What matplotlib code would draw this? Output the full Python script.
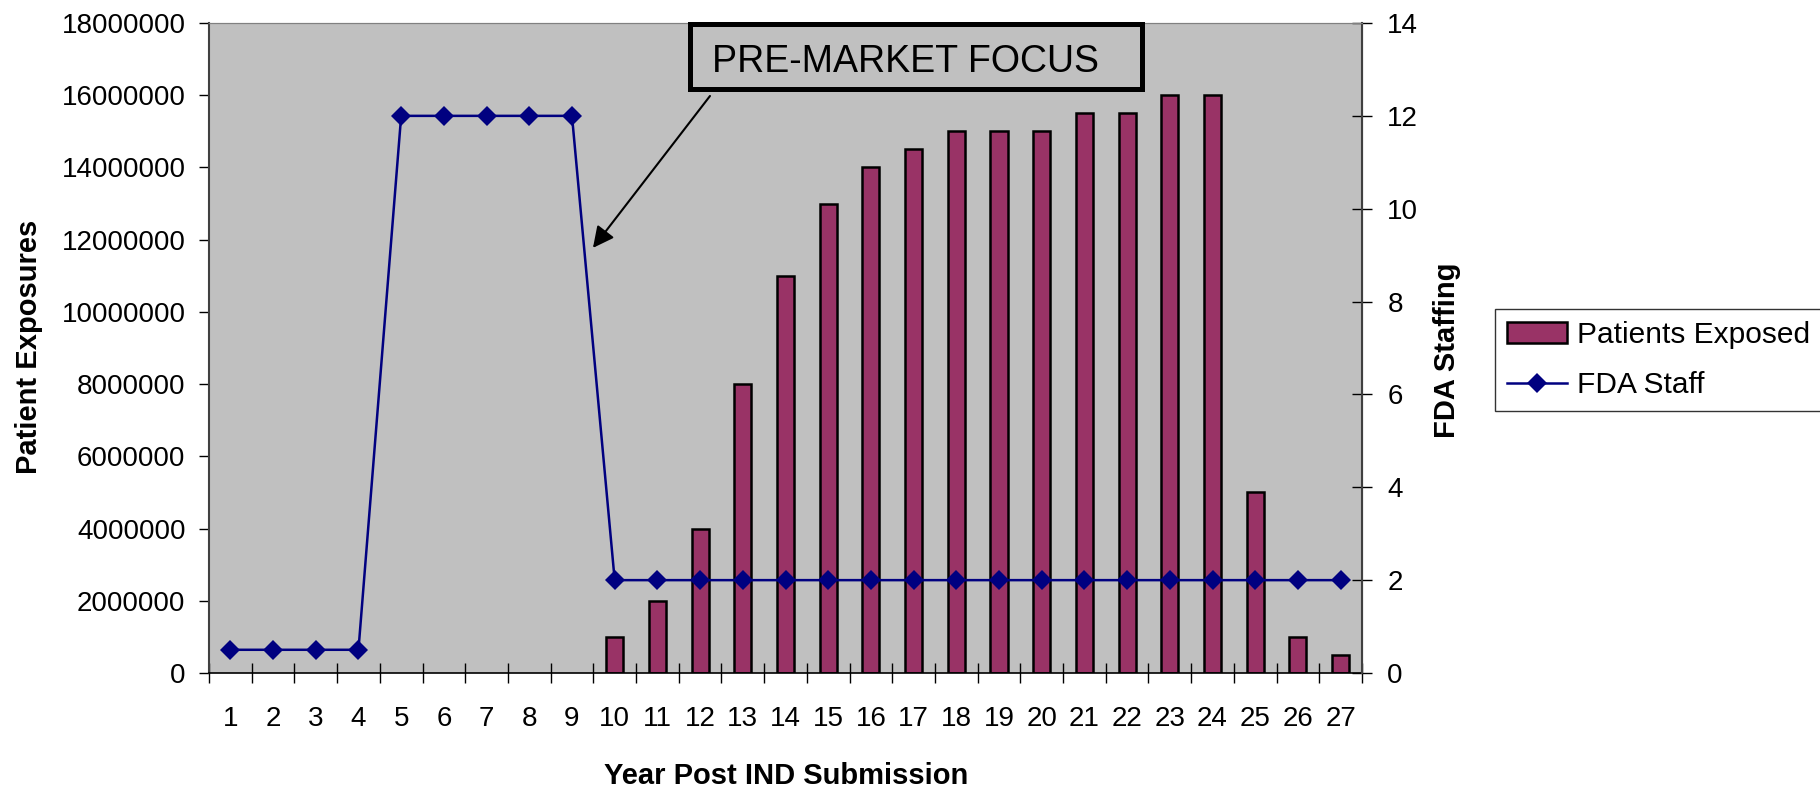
import matplotlib
matplotlib.use("Agg")
import matplotlib.pyplot as plt
from matplotlib.patches import Rectangle
from matplotlib.ticker import FixedLocator, StrMethodFormatter, MultipleLocator

plt.rcParams['font.family'] = ['Liberation Sans', 'DejaVu Sans']

years = list(range(1, 28))
year_labels = [str(y) for y in years]
patients_exposed = [0, 0, 0, 0, 0, 0, 0, 0, 0,
                    1000000, 2000000, 4000000, 8000000, 11000000, 13000000,
                    14000000, 14500000, 15000000, 15000000, 15000000, 15500000,
                    15500000, 16000000, 16000000, 5000000, 1000000, 500000]
fda_staff = [0.5, 0.5, 0.5, 0.5, 12, 12, 12, 12, 12,
             2, 2, 2, 2, 2, 2, 2, 2, 2, 2, 2, 2, 2, 2, 2, 2, 2, 2]

BAR = '#993366'
LINE = '#000080'
BG = '#C0C0C0'

W, H = 1820, 790
fig = plt.figure(figsize=(W / 100, H / 100), dpi=100)
L, R, T, B = 209, 1362, 23, 673
ax = fig.add_axes([L / W, 1 - B / H, (R - L) / W, (B - T) / H])
ax.set_facecolor(BG)

bars = ax.bar(years, patients_exposed, width=0.4, color=BAR, edgecolor='black',
              linewidth=1.8, label='Patients Exposed', zorder=2)
bar_handle = None
for b, v in zip(bars, patients_exposed):
    if v == 0:
        b.set_visible(False)
    elif bar_handle is None:
        bar_handle = b
ax.set_xlim(0.5, 27.5)
ax.set_ylim(0, 18000000)
ax.yaxis.set_major_locator(MultipleLocator(2000000))
ax.yaxis.set_major_formatter(StrMethodFormatter('{x:.0f}'))
ax.set_xticks(years)
ax.set_xticklabels(year_labels)
ax.xaxis.set_minor_locator(FixedLocator([y - 0.5 for y in years] + [27.5]))
ax.tick_params(axis='x', which='major', length=0, pad=24, labelsize=20)
ax.tick_params(axis='x', which='minor', length=14.4, direction='inout', width=1, color='black')
ax.tick_params(axis='y', which='major', length=7, direction='out', width=1, pad=10, labelsize=20)

ax.spines['bottom'].set_color('black')
ax.spines['bottom'].set_linewidth(1.2)
ax.spines['left'].set_color('#404040')
ax.spines['left'].set_linewidth(1.5)
ax.spines['top'].set_color('#808080')
ax.spines['right'].set_color('#404040')

ax2 = ax.twinx()
ax2.patch.set_visible(False)
ln, = ax2.plot(years, fda_staff, color=LINE, lw=1.8, marker='D', markersize=10,
               markeredgewidth=0, label='FDA Staff', zorder=3)
ax2.set_ylim(0, 14)
ax2.yaxis.set_major_locator(MultipleLocator(2))
ax2.tick_params(axis='y', which='major', length=14.4, direction='inout', width=1, pad=11, labelsize=20)
ax2.spines['right'].set_color('#404040')
ax2.spines['right'].set_linewidth(1.5)
ax2.spines['top'].set_color('#808080')
ax2.spines['left'].set_visible(False)
ax2.spines['bottom'].set_visible(False)

# annotation box
box = Rectangle((0.4176, 0.8977), 0.8096 - 0.4176, 0.9977 - 0.8977,
                transform=ax2.transAxes, facecolor=BG, edgecolor='black',
                linewidth=3.6, zorder=10, clip_on=False)
ax2.add_patch(box)
ax2.text(0.4362, 0.9246, 'PRE-MARKET FOCUS', transform=ax2.transAxes,
         fontsize=27, ha='left', va='baseline', zorder=11)
ax2.annotate('', xy=(0.333, 0.654), xytext=(0.4345, 0.8877),
             xycoords='axes fraction', textcoords='axes fraction',
             arrowprops=dict(arrowstyle='-|>', color='black', lw=1.5,
                             mutation_scale=32, shrinkA=0, shrinkB=0),
             zorder=9)

# labels
fig.text(786 / W, 1 - 776 / H, 'Year Post IND Submission', fontsize=21,
         fontweight='bold', ha='center', va='center')
fig.text(29 / W, 1 - 347 / H, 'Patient Exposures', fontsize=21,
         fontweight='bold', ha='center', va='center', rotation=90)
fig.text(1447 / W, 1 - 350 / H, 'FDA Staffing', fontsize=21,
         fontweight='bold', ha='center', va='center', rotation=90)

leg = fig.legend([bar_handle, ln], ['Patients Exposed', 'FDA Staff'],
                 loc='upper left', bbox_to_anchor=(1495 / W, 1 - 309 / H),
                 bbox_transform=fig.transFigure, fontsize=21.5,
                 frameon=True, fancybox=False, edgecolor='black',
                 borderaxespad=0, borderpad=0.4, handlelength=2.0,
                 handleheight=0.7, handletextpad=0.35, labelspacing=0.75)
leg.get_frame().set_linewidth(1.0)

fig.savefig('out.png', dpi=100, facecolor='white')
